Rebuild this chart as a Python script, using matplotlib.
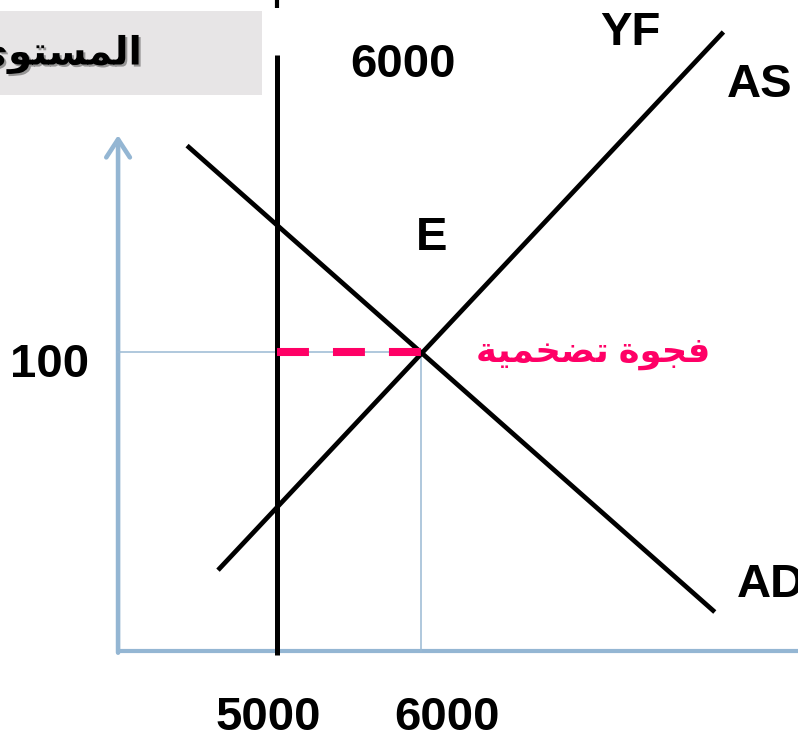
import matplotlib
matplotlib.use("Agg")
import matplotlib.pyplot as plt
import matplotlib.patches as mpatches
import matplotlib.patheffects as pe

# curves (quantity, price level)
ad_x = [4375, 8040]
ad_y = [169, 13]
as_x = [4590, 8100]
as_y = [27, 207]
yf_x = 5000
yf_y = [-1.3, 199.3]
eq_x = 6000
eq_y = 100

x_ticks = [5000, 6000]
x_tick_labels = ["5000", "6000"]
y_tick = 100
y_tick_label = "100"

gap_label = "فجوة تضخمية"
y_title = "المستوى"

AXIS_BLUE = "#94b6d3"
THIN_BLUE = "#9ab9d3"
PINK = "#ff0066"

# basic arabic shaping (matplotlib has no shaping / bidi)
FORMS = {
    "ا": ("\ufe8d", "\ufe8e", None, None),
    "ل": ("\ufedd", "\ufede", "\ufedf", "\ufee0"),
    "م": ("\ufee1", "\ufee2", "\ufee3", "\ufee4"),
    "س": ("\ufeb1", "\ufeb2", "\ufeb3", "\ufeb4"),
    "ت": ("\ufe95", "\ufe96", "\ufe97", "\ufe98"),
    "و": ("\ufeed", "\ufeee", None, None),
    "ى": ("\ufeef", "\ufef0", None, None),
    "ف": ("\ufed1", "\ufed2", "\ufed3", "\ufed4"),
    "ج": ("\ufe9d", "\ufe9e", "\ufe9f", "\ufea0"),
    "ة": ("\ufe93", "\ufe94", None, None),
    "ض": ("\ufebd", "\ufebe", "\ufebf", "\ufec0"),
    "خ": ("\ufea5", "\ufea6", "\ufea7", "\ufea8"),
    "ي": ("\ufef1", "\ufef2", "\ufef3", "\ufef4"),
}


def shape(text):
    out = []
    for i, c in enumerate(text):
        if c not in FORMS:
            out.append(c)
            continue
        prev = text[i - 1] if i > 0 else None
        nxt = text[i + 1] if i + 1 < len(text) else None
        join_prev = prev in FORMS and FORMS[prev][2] is not None
        join_next = FORMS[c][2] is not None and nxt in FORMS
        iso, fin, ini, med = FORMS[c]
        if join_prev and join_next:
            out.append(med)
        elif join_prev:
            out.append(fin)
        elif join_next:
            out.append(ini)
        else:
            out.append(iso)
    return "".join(out)[::-1]


plt.rcParams["font.family"] = ["Liberation Sans", "DejaVu Sans"]

fig = plt.figure(figsize=(7.98, 7.37), dpi=100)
ax = fig.add_axes([0, 0, 1, 1])
ax.set_xlim(3076, 8618)
ax.set_ylim(-28.8, 217.7)
ax.axis("off")

y_axis_x = 3896

# grey title box (cut at left edge)
ax.add_patch(mpatches.Rectangle((3000, 186), 1896, 28, facecolor="#e7e5e6",
                                edgecolor="none", zorder=1))
ax.text(4062, 199.5, shape(y_title), ha="right", va="center", fontsize=28,
        fontweight="bold", color="black", zorder=2,
        path_effects=[pe.withSimplePatchShadow(offset=(1.5, -1.5), alpha=0.35)])

# axes
ax.plot([y_axis_x, 8700], [0, 0], color=AXIS_BLUE, lw=3.0, solid_capstyle="butt", zorder=2)
ax.annotate("", xy=(y_axis_x, 172.5), xytext=(y_axis_x, -0.6),
            arrowprops=dict(arrowstyle="->,head_length=1.3,head_width=0.85",
                            color=AXIS_BLUE, lw=3.3, shrinkA=0, shrinkB=0,
                            joinstyle="round", capstyle="round"), zorder=2)

# guide lines to equilibrium
ax.plot([y_axis_x, eq_x], [eq_y, eq_y], color=THIN_BLUE, lw=1.1, zorder=2)
ax.plot([eq_x, eq_x], [0, eq_y], color=THIN_BLUE, lw=1.1, zorder=2)

# YF
ax.plot([yf_x, yf_x], yf_y, color="black", lw=3.6, solid_capstyle="butt", zorder=3)
ax.plot([yf_x, yf_x], [215, 218], color="black", lw=3.0, solid_capstyle="butt", zorder=3)

# AD / AS
ax.plot(ad_x, ad_y, color="black", lw=3.4, solid_capstyle="butt", zorder=3)
ax.plot(as_x, as_y, color="black", lw=3.4, solid_capstyle="butt", zorder=3)

# inflationary gap
lw_gap = 5.8
ax.plot([yf_x, eq_x], [eq_y, eq_y], color=PINK, lw=lw_gap, solid_capstyle="butt",
        dash_capstyle="butt", linestyle=(0, (23.0 / lw_gap, 17.3 / lw_gap)), zorder=4)

big = dict(fontsize=34, fontweight="bold", color="black", ha="center", va="baseline")
ax.text(5875, 192.0, "6000", **big)
ax.text(7451, 202.7, "YF", **big)
ax.text(8354, 185.3, "AS", **big)
ax.text(6076, 134.1, "E", **big)
ax.text(8194, 18.1, "AD", **dict(big, ha="left"))
ax.text(3417, 91.6, y_tick_label, **big)
for xv, lab in zip(x_ticks, x_tick_labels):
    ax.text(xv - 63 if xv == 5000 else xv + 181, -26.6, lab, **big)

ax.text(7194, 99.5, shape(gap_label), ha="center", va="center", fontsize=25.5,
        fontweight="bold", color=PINK)

fig.savefig("out.png", dpi=100)
